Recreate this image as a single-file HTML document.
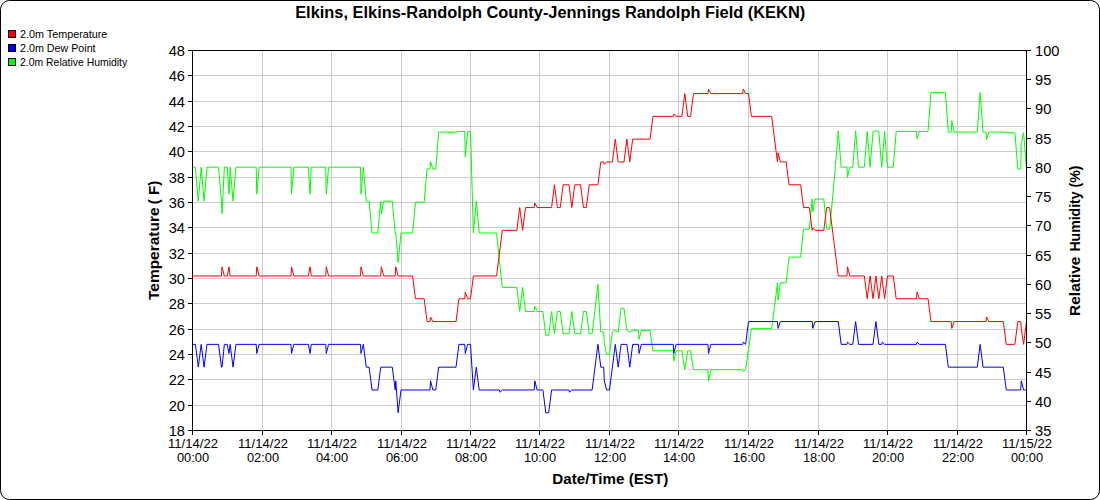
<!DOCTYPE html><html><head><meta charset="utf-8"><title>KEKN</title><style>html,body{margin:0;padding:0;background:#fff}svg{display:block}text{font-family:"Liberation Sans",sans-serif;fill:#000}</style></head><body>
<svg width="1100" height="500" viewBox="0 0 1100 500">
<rect x="0" y="0" width="1100" height="500" fill="#fff"/>
<rect x="0.5" y="0.5" width="1099" height="499" rx="9" ry="9" fill="#fff" stroke="#000" stroke-width="1"/>
<path d="M262.5 50V430M331.5 50V430M401.5 50V430M470.5 50V430M539.5 50V430M609.5 50V430M678.5 50V430M748.5 50V430M818.5 50V430M887.5 50V430M957.5 50V430M192 405.5H1026M192 379.5H1026M192 354.5H1026M192 329.5H1026M192 303.5H1026M192 278.5H1026M192 253.5H1026M192 227.5H1026M192 202.5H1026M192 177.5H1026M192 151.5H1026M192 126.5H1026M192 101.5H1026M192 75.5H1026" stroke="#cccccc" stroke-width="1" fill="none" shape-rendering="crispEdges"/>
<clipPath id="c"><rect x="192" y="50" width="835" height="381"/></clipPath>
<g clip-path="url(#c)" fill="none" stroke-width="1" stroke-linejoin="miter">
<path d="M192.50 167.18L195.40 167.18L198.29 201.20L201.19 167.18L204.08 201.20L206.98 167.18L218.56 167.18L221.46 201.20L222.04 213.71L224.35 167.18L227.25 167.18L228.99 194.15L230.15 167.18L233.04 201.20L235.94 167.18L256.21 167.18L256.79 194.15L259.10 167.18L290.96 167.18L291.54 194.15L293.85 167.18L308.33 167.18L310.07 194.15L311.23 167.18L325.71 167.18L326.29 194.15L328.60 167.18L360.46 167.18L361.04 194.15L363.35 167.18L366.25 201.20L369.15 201.20L372.04 233.01L377.83 233.01L380.73 201.20L381.31 213.71L383.62 201.20L392.31 201.20L395.21 233.01L395.79 232.50L398.10 262.73L401.00 233.01L412.58 233.01L415.48 202.31L424.17 202.31L427.06 168.97L429.96 168.97L430.54 161.62L432.85 168.97L435.75 168.97L438.65 132.09L456.02 132.09L458.92 131.45L464.71 131.45L465.29 157.09L467.60 131.45L470.50 131.45L473.40 233.01L476.29 201.20L479.19 233.01L496.56 233.01L499.46 261.30L502.35 287.39L516.83 287.39L519.73 311.47L522.62 287.39L525.52 311.47L534.21 311.47L534.79 306.16L537.10 311.47L542.90 311.47L545.79 335.39L548.69 335.39L551.58 311.47L554.48 333.69L557.38 311.47L560.27 311.47L563.17 333.69L568.96 333.69L571.85 311.47L574.75 333.69L580.54 333.69L583.44 311.47L586.33 311.47L589.23 333.69L592.12 333.69L595.02 309.85L597.92 284.34L600.81 332.01L603.71 332.01L604.29 343.48L606.60 354.23L609.50 354.23L612.40 332.01L615.29 330.33L618.19 332.01L621.08 308.24L623.98 308.24L626.88 330.33L629.77 332.01L632.67 330.33L638.46 330.33L639.04 339.38L641.35 330.33L650.04 330.33L652.94 350.77L673.21 350.77L673.79 361.10L676.10 350.77L681.90 350.77L684.79 369.68L687.69 350.77L690.58 350.77L693.48 369.68L707.96 369.68L708.54 381.06L710.85 369.68L742.71 369.68L743.29 371.32L745.60 369.68L748.50 349.06L751.40 328.67L771.67 328.67L774.56 306.65L777.46 282.84L778.04 300.17L780.35 282.84L786.15 282.84L789.04 257.09L800.62 257.09L803.52 229.21L809.31 229.21L812.21 199.02L812.79 211.73L815.10 199.02L823.79 199.02L826.69 229.21L829.58 229.21L832.48 199.02L835.38 166.30L838.27 130.82L841.17 167.18L846.96 167.18L847.54 177.24L849.85 167.18L852.75 167.18L855.65 130.82L858.54 167.18L864.33 167.18L867.23 131.45L870.12 167.18L873.02 131.45L875.92 130.82L878.81 131.45L881.71 167.18L884.60 131.45L887.50 167.18L893.29 167.18L896.19 131.45L916.46 131.45L917.04 138.76L919.35 131.45L928.04 131.45L930.94 92.66L945.42 92.66L948.31 132.09L951.21 132.09L951.79 120.71L954.10 132.09L977.27 132.09L980.17 92.66L983.06 132.09L985.96 132.09L986.54 139.53L988.85 132.09L1003.33 132.09L1006.23 132.75L1014.92 132.75L1017.81 168.97L1020.71 168.97L1021.29 143.64L1023.60 132.75L1026.50 168.97" stroke="#00ff00"/>
<path d="M192.50 344.37L195.40 344.37L198.29 367.17L201.19 344.37L204.08 367.17L206.98 344.37L218.56 344.37L221.46 367.17L222.04 367.17L224.35 344.37L227.25 344.37L228.99 353.49L230.15 344.37L233.04 367.17L235.94 344.37L256.21 344.37L256.79 353.49L259.10 344.37L290.96 344.37L291.54 353.49L293.85 344.37L308.33 344.37L310.07 353.49L311.23 344.37L325.71 344.37L326.29 353.49L328.60 344.37L360.46 344.37L361.04 353.49L363.35 344.37L366.25 367.17L369.15 367.17L372.04 389.97L377.83 389.97L380.73 367.17L392.31 367.17L395.21 389.97L395.79 380.85L398.10 412.77L401.00 389.97L429.96 389.97L430.54 380.85L432.85 389.97L435.75 389.97L438.65 367.17L456.02 367.17L458.92 344.37L464.71 344.37L465.29 353.49L467.60 344.37L470.50 344.37L473.40 389.97L476.29 367.17L479.19 389.97L499.46 389.97L500.04 392.25L502.35 389.97L534.21 389.97L534.79 380.85L537.10 389.97L542.90 389.97L545.79 412.77L548.69 412.77L551.58 389.97L568.96 389.97L569.54 392.25L571.85 389.97L592.12 389.97L597.92 344.37L600.81 367.17L603.71 367.17L604.29 380.85L606.60 389.97L609.50 389.97L615.29 344.37L618.19 367.17L621.08 344.37L626.88 344.37L629.77 367.17L632.67 344.37L638.46 344.37L639.04 353.49L641.35 344.37L673.21 344.37L673.79 353.49L676.10 344.37L707.96 344.37L708.54 353.49L710.85 344.37L742.71 344.37L743.29 342.09L745.60 344.37L748.50 321.57L777.46 321.57L778.04 328.41L780.35 321.57L812.21 321.57L812.79 328.41L815.10 321.57L838.27 321.57L841.17 344.37L846.96 344.37L847.54 342.09L849.85 344.37L852.75 344.37L855.65 321.57L858.54 344.37L873.02 344.37L875.92 321.57L878.81 344.37L881.71 344.37L882.29 342.09L884.60 344.37L916.46 344.37L917.04 342.09L919.35 344.37L945.42 344.37L948.31 367.17L977.27 367.17L980.17 344.37L983.06 367.17L1003.33 367.17L1006.23 389.97L1020.71 389.97L1021.29 380.85L1023.60 389.97L1026.50 389.97" stroke="#0000ff"/>
<path d="M192.50 275.97L221.46 275.97L222.04 266.85L224.35 275.97L227.25 275.97L228.99 266.85L230.15 275.97L256.21 275.97L256.79 266.85L259.10 275.97L290.96 275.97L291.54 266.85L293.85 275.97L308.33 275.97L310.07 266.85L311.23 275.97L325.71 275.97L326.29 266.85L328.60 275.97L360.46 275.97L361.04 266.85L363.35 275.97L380.73 275.97L381.31 266.85L383.62 275.97L395.21 275.97L395.79 266.85L398.10 275.97L412.58 275.97L415.48 298.77L424.17 298.77L427.06 321.57L429.96 321.57L430.54 317.01L432.85 321.57L456.02 321.57L458.92 298.77L464.71 298.77L465.29 291.93L467.60 298.77L470.50 298.77L473.40 275.97L496.56 275.97L502.35 230.37L516.83 230.37L519.73 207.57L522.62 230.37L525.52 207.57L534.21 207.57L534.79 203.01L537.10 207.57L551.58 207.57L554.48 184.77L557.38 207.57L560.27 207.57L563.17 184.77L568.96 184.77L571.85 207.57L574.75 184.77L580.54 184.77L583.44 207.57L586.33 207.57L589.23 184.77L597.92 184.77L600.81 161.97L603.71 161.97L604.29 164.25L606.60 161.97L612.40 161.97L615.29 139.17L618.19 161.97L623.98 161.97L626.88 139.17L629.77 161.97L632.67 139.17L650.04 139.17L652.94 116.37L673.21 116.37L673.79 114.09L676.10 116.37L681.90 116.37L684.79 93.57L687.69 116.37L690.58 116.37L693.48 93.57L707.96 93.57L708.54 89.01L710.85 93.57L742.71 93.57L743.29 89.01L745.60 93.57L748.50 93.57L751.40 116.37L771.67 116.37L777.46 161.97L778.04 152.85L780.35 161.97L786.15 161.97L789.04 184.77L800.62 184.77L803.52 207.57L809.31 207.57L812.21 230.37L812.79 228.09L815.10 230.37L823.79 230.37L826.69 207.57L829.58 207.57L838.27 275.97L846.96 275.97L847.54 266.85L849.85 275.97L864.33 275.97L867.23 298.77L870.12 275.97L873.02 298.77L875.92 275.97L878.81 298.77L881.71 275.97L884.60 298.77L887.50 275.97L893.29 275.97L896.19 298.77L916.46 298.77L917.04 291.93L919.35 298.77L928.04 298.77L930.94 321.57L951.21 321.57L951.79 328.41L954.10 321.57L985.96 321.57L986.54 317.01L988.85 321.57L1003.33 321.57L1006.23 344.37L1014.92 344.37L1017.81 321.57L1020.71 321.57L1021.29 328.41L1023.60 344.37L1026.50 321.57" stroke="#ff0000"/>
</g>
<path d="M192.5 50V431M1026.5 50V431M192 50.5H1027M192 430.5H1027M192.5 431v4M262.5 431v4M331.5 431v4M401.5 431v4M470.5 431v4M539.5 431v4M609.5 431v4M678.5 431v4M748.5 431v4M818.5 431v4M887.5 431v4M957.5 431v4M1026.5 431v4M188 430.5h4M188 405.5h4M188 379.5h4M188 354.5h4M188 329.5h4M188 303.5h4M188 278.5h4M188 253.5h4M188 227.5h4M188 202.5h4M188 177.5h4M188 151.5h4M188 126.5h4M188 101.5h4M188 75.5h4M188 50.5h4M1027 430.5h4M1027 401.5h4M1027 372.5h4M1027 342.5h4M1027 313.5h4M1027 284.5h4M1027 255.5h4M1027 225.5h4M1027 196.5h4M1027 167.5h4M1027 138.5h4M1027 108.5h4M1027 79.5h4M1027 50.5h4" stroke="#000" stroke-width="1" fill="none" shape-rendering="crispEdges"/>
<text x="185" y="435.8" font-size="14.67" text-anchor="end">18</text>
<text x="185" y="410.8" font-size="14.67" text-anchor="end">20</text>
<text x="185" y="384.8" font-size="14.67" text-anchor="end">22</text>
<text x="185" y="359.8" font-size="14.67" text-anchor="end">24</text>
<text x="185" y="334.8" font-size="14.67" text-anchor="end">26</text>
<text x="185" y="308.8" font-size="14.67" text-anchor="end">28</text>
<text x="185" y="283.8" font-size="14.67" text-anchor="end">30</text>
<text x="185" y="258.8" font-size="14.67" text-anchor="end">32</text>
<text x="185" y="232.8" font-size="14.67" text-anchor="end">34</text>
<text x="185" y="207.8" font-size="14.67" text-anchor="end">36</text>
<text x="185" y="182.8" font-size="14.67" text-anchor="end">38</text>
<text x="185" y="156.8" font-size="14.67" text-anchor="end">40</text>
<text x="185" y="131.8" font-size="14.67" text-anchor="end">42</text>
<text x="185" y="106.8" font-size="14.67" text-anchor="end">44</text>
<text x="185" y="80.8" font-size="14.67" text-anchor="end">46</text>
<text x="185" y="55.8" font-size="14.67" text-anchor="end">48</text>
<text x="1035" y="435.8" font-size="14.67">35</text>
<text x="1035" y="406.8" font-size="14.67">40</text>
<text x="1035" y="377.8" font-size="14.67">45</text>
<text x="1035" y="347.8" font-size="14.67">50</text>
<text x="1035" y="318.8" font-size="14.67">55</text>
<text x="1035" y="289.8" font-size="14.67">60</text>
<text x="1035" y="260.8" font-size="14.67">65</text>
<text x="1035" y="230.8" font-size="14.67">70</text>
<text x="1035" y="201.8" font-size="14.67">75</text>
<text x="1035" y="172.8" font-size="14.67">80</text>
<text x="1035" y="143.8" font-size="14.67">85</text>
<text x="1035" y="113.8" font-size="14.67">90</text>
<text x="1035" y="84.8" font-size="14.67">95</text>
<text x="1035" y="55.8" font-size="14.67">100</text>
<text x="193.0" y="447.5" font-size="13.33" text-anchor="middle" textLength="49.9" lengthAdjust="spacingAndGlyphs">11/14/22</text>
<text x="193.0" y="462.4" font-size="13.33" text-anchor="middle" textLength="32.2" lengthAdjust="spacingAndGlyphs">00:00</text>
<text x="263.0" y="447.5" font-size="13.33" text-anchor="middle" textLength="49.9" lengthAdjust="spacingAndGlyphs">11/14/22</text>
<text x="263.0" y="462.4" font-size="13.33" text-anchor="middle" textLength="32.2" lengthAdjust="spacingAndGlyphs">02:00</text>
<text x="332.0" y="447.5" font-size="13.33" text-anchor="middle" textLength="49.9" lengthAdjust="spacingAndGlyphs">11/14/22</text>
<text x="332.0" y="462.4" font-size="13.33" text-anchor="middle" textLength="32.2" lengthAdjust="spacingAndGlyphs">04:00</text>
<text x="402.0" y="447.5" font-size="13.33" text-anchor="middle" textLength="49.9" lengthAdjust="spacingAndGlyphs">11/14/22</text>
<text x="402.0" y="462.4" font-size="13.33" text-anchor="middle" textLength="32.2" lengthAdjust="spacingAndGlyphs">06:00</text>
<text x="471.0" y="447.5" font-size="13.33" text-anchor="middle" textLength="49.9" lengthAdjust="spacingAndGlyphs">11/14/22</text>
<text x="471.0" y="462.4" font-size="13.33" text-anchor="middle" textLength="32.2" lengthAdjust="spacingAndGlyphs">08:00</text>
<text x="540.0" y="447.5" font-size="13.33" text-anchor="middle" textLength="49.9" lengthAdjust="spacingAndGlyphs">11/14/22</text>
<text x="540.0" y="462.4" font-size="13.33" text-anchor="middle" textLength="32.2" lengthAdjust="spacingAndGlyphs">10:00</text>
<text x="610.0" y="447.5" font-size="13.33" text-anchor="middle" textLength="49.9" lengthAdjust="spacingAndGlyphs">11/14/22</text>
<text x="610.0" y="462.4" font-size="13.33" text-anchor="middle" textLength="32.2" lengthAdjust="spacingAndGlyphs">12:00</text>
<text x="679.0" y="447.5" font-size="13.33" text-anchor="middle" textLength="49.9" lengthAdjust="spacingAndGlyphs">11/14/22</text>
<text x="679.0" y="462.4" font-size="13.33" text-anchor="middle" textLength="32.2" lengthAdjust="spacingAndGlyphs">14:00</text>
<text x="749.0" y="447.5" font-size="13.33" text-anchor="middle" textLength="49.9" lengthAdjust="spacingAndGlyphs">11/14/22</text>
<text x="749.0" y="462.4" font-size="13.33" text-anchor="middle" textLength="32.2" lengthAdjust="spacingAndGlyphs">16:00</text>
<text x="819.0" y="447.5" font-size="13.33" text-anchor="middle" textLength="49.9" lengthAdjust="spacingAndGlyphs">11/14/22</text>
<text x="819.0" y="462.4" font-size="13.33" text-anchor="middle" textLength="32.2" lengthAdjust="spacingAndGlyphs">18:00</text>
<text x="888.0" y="447.5" font-size="13.33" text-anchor="middle" textLength="49.9" lengthAdjust="spacingAndGlyphs">11/14/22</text>
<text x="888.0" y="462.4" font-size="13.33" text-anchor="middle" textLength="32.2" lengthAdjust="spacingAndGlyphs">20:00</text>
<text x="958.0" y="447.5" font-size="13.33" text-anchor="middle" textLength="49.9" lengthAdjust="spacingAndGlyphs">11/14/22</text>
<text x="958.0" y="462.4" font-size="13.33" text-anchor="middle" textLength="32.2" lengthAdjust="spacingAndGlyphs">22:00</text>
<text x="1027.0" y="447.5" font-size="13.33" text-anchor="middle" textLength="49.9" lengthAdjust="spacingAndGlyphs">11/15/22</text>
<text x="1027.0" y="462.4" font-size="13.33" text-anchor="middle" textLength="32.2" lengthAdjust="spacingAndGlyphs">00:00</text>
<text x="550.2" y="18.3" font-size="16" font-weight="bold" text-anchor="middle" textLength="510" lengthAdjust="spacingAndGlyphs">Elkins, Elkins-Randolph County-Jennings Randolph Field (KEKN)</text>
<text x="610.3" y="483.5" font-size="14.67" font-weight="bold" text-anchor="middle" textLength="116" lengthAdjust="spacingAndGlyphs">Date/Time (EST)</text>
<text transform="translate(159,299.95) rotate(-90)" font-size="14.67" font-weight="bold" text-anchor="start" textLength="92.45" lengthAdjust="spacingAndGlyphs">Temperature</text>
<text transform="translate(159,180.65) rotate(-90)" font-size="14.67" font-weight="bold" text-anchor="end" textLength="23.58" lengthAdjust="spacingAndGlyphs">( F)</text>
<text transform="translate(1079.5,316) rotate(-90)" font-size="14.67" font-weight="bold" text-anchor="start" textLength="59.5" lengthAdjust="spacingAndGlyphs">Relative</text>
<text transform="translate(1079.5,165.6) rotate(-90)" font-size="14.67" font-weight="bold" text-anchor="end" textLength="86" lengthAdjust="spacingAndGlyphs">Humidity (%)</text>
<rect x="8.5" y="30.5" width="7" height="7" fill="#ff0000" stroke="#000" stroke-width="1" shape-rendering="crispEdges"/>
<text x="20" y="37.7" font-size="10.67" textLength="87.3" lengthAdjust="spacingAndGlyphs">2.0m Temperature</text>
<rect x="8.5" y="44.5" width="7" height="7" fill="#0000ff" stroke="#000" stroke-width="1" shape-rendering="crispEdges"/>
<text x="20" y="51.7" font-size="10.67" textLength="75.6" lengthAdjust="spacingAndGlyphs">2.0m Dew Point</text>
<rect x="8.5" y="58.5" width="7" height="7" fill="#00ff00" stroke="#000" stroke-width="1" shape-rendering="crispEdges"/>
<text x="20" y="65.7" font-size="10.67" textLength="107.2" lengthAdjust="spacingAndGlyphs">2.0m Relative Humidity</text>
</svg></body></html>
